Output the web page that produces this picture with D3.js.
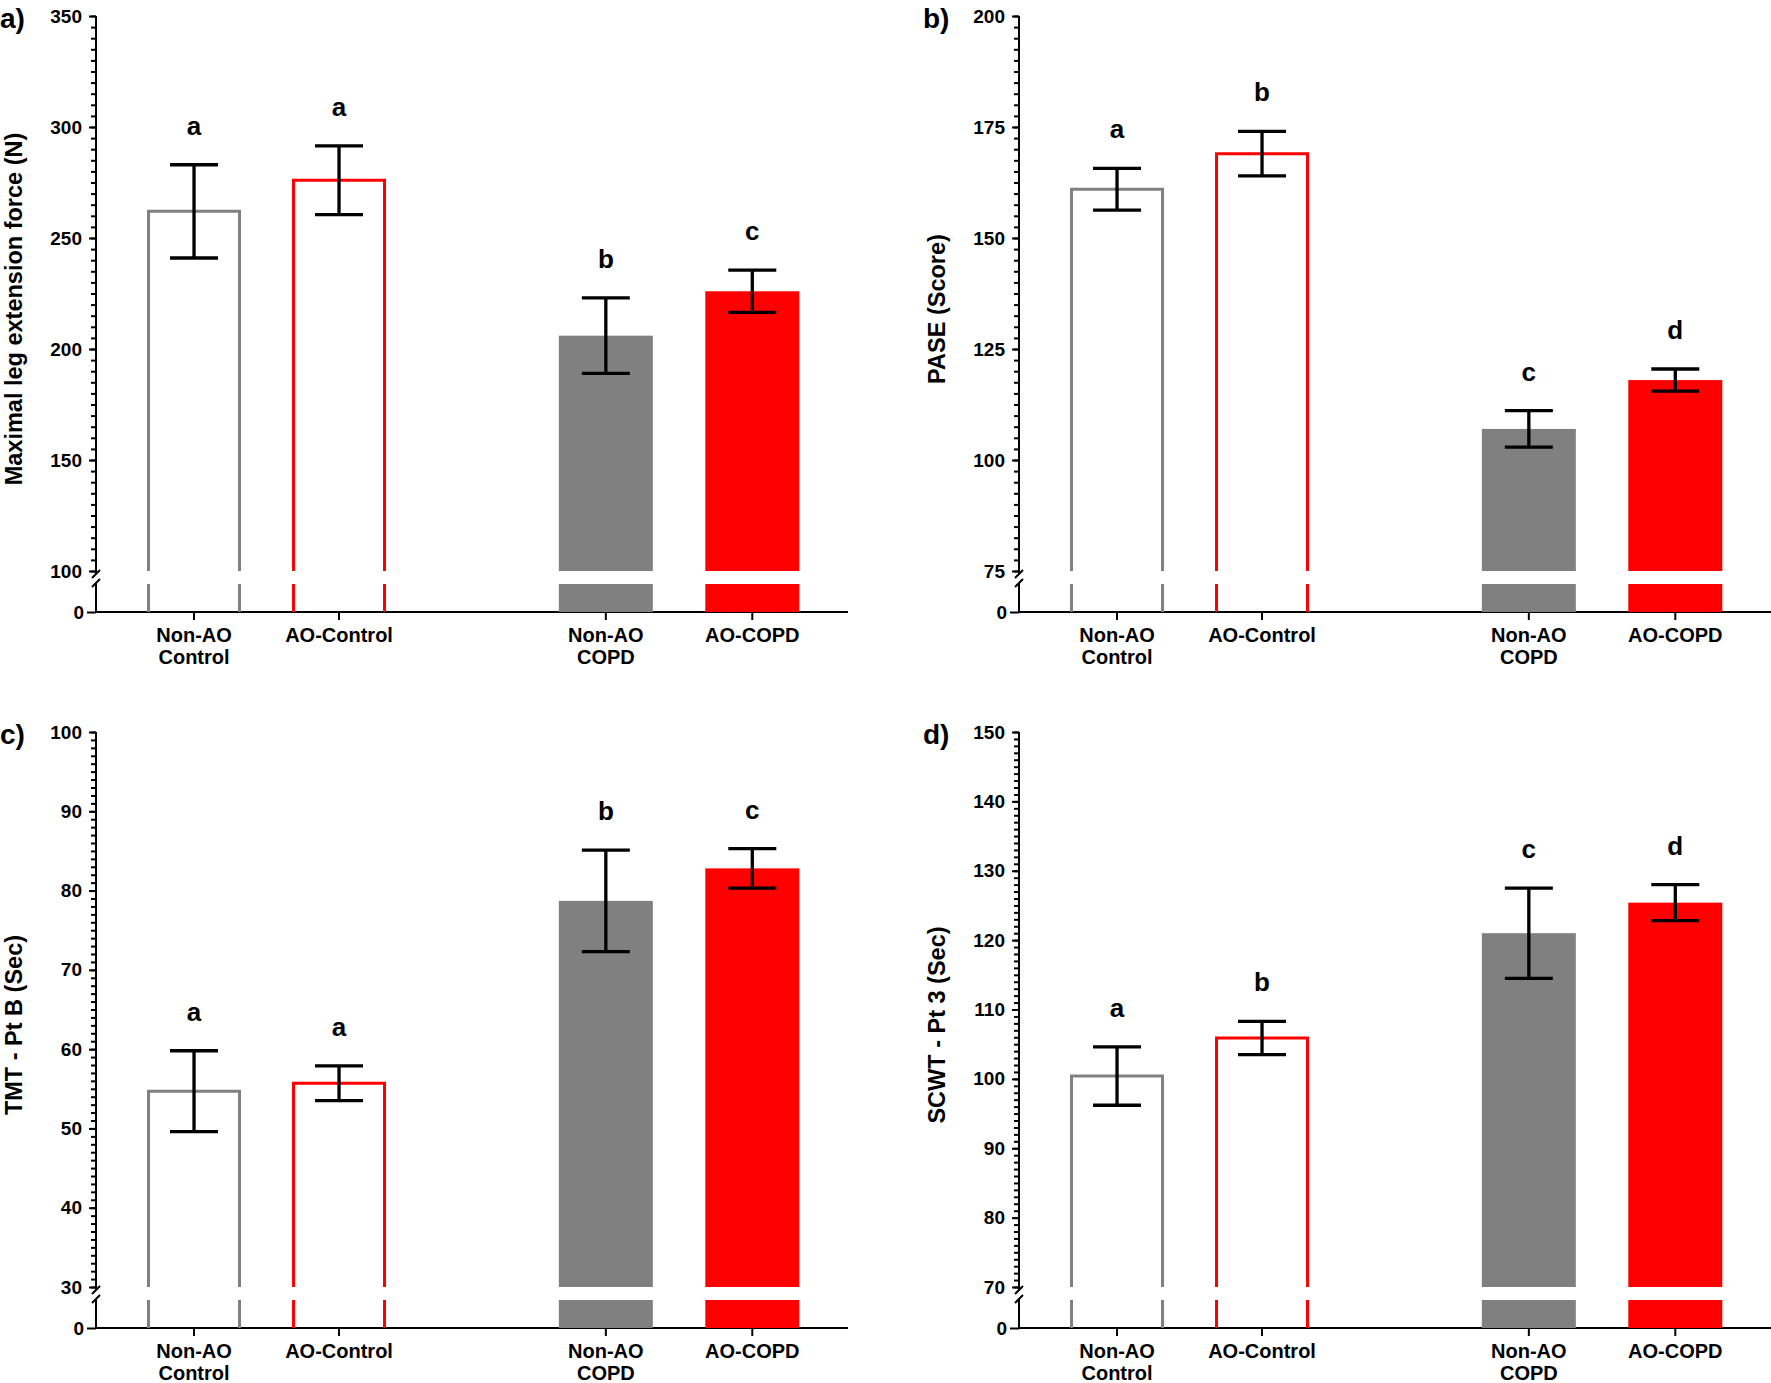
<!DOCTYPE html>
<html>
<head>
<meta charset="utf-8">
<script src="https://cdn.jsdelivr.net/npm/d3@7"></script>
<style>
	body { margin: 0; background: #fff; }
	svg { display: block; font-family: "Liberation Sans", Arial, sans-serif; font-weight: bold; }
</style>
</head>
<body>
<svg width="1771" height="1383"></svg>
<script>
// Groups, in plotting order
var categories = ['Non-AO Control', 'AO-Control', 'Non-AO COPD', 'AO-COPD'];
var category_lines = [['Non-AO', 'Control'], ['AO-Control'], ['Non-AO', 'COPD'], ['AO-COPD']];

// a) Maximal leg extension force
var leg_mean = [262, 276, 206, 226];
var leg_err = [21, 15.5, 17, 9.5];
var leg_letters = ['a', 'a', 'b', 'c'];
var leg_ticks = [100, 150, 200, 250, 300, 350];

// b) PASE
var pase_mean = [161, 169, 107, 118];
var pase_err = [4.7, 5, 4.1, 2.5];
var pase_letters = ['a', 'b', 'c', 'd'];
var pase_ticks = [75, 100, 125, 150, 175, 200];

// c) TMT part B
var tmt_mean = [54.7, 55.7, 78.7, 82.8];
var tmt_err = [5.1, 2.2, 6.4, 2.5];
var tmt_letters = ['a', 'a', 'b', 'c'];
var tmt_ticks = [30, 40, 50, 60, 70, 80, 90, 100];

// d) SCWT part 3
var scwt_mean = [100.4, 105.9, 121, 125.4];
var scwt_err = [4.2, 2.4, 6.5, 2.6];
var scwt_letters = ['a', 'b', 'c', 'd'];
var scwt_ticks = [70, 80, 90, 100, 110, 120, 130, 140, 150];

var panels = [
	{ tag: 'a)', title: 'Maximal leg extension force (N)', mean: leg_mean, err: leg_err, letters: leg_letters, ticks: leg_ticks, minor: 5, ox: 96, oy: 16 },
	{ tag: 'b)', title: 'PASE (Score)', mean: pase_mean, err: pase_err, letters: pase_letters, ticks: pase_ticks, minor: 2.5, ox: 1019, oy: 16 },
	{ tag: 'c)', title: 'TMT - Pt B (Sec)', mean: tmt_mean, err: tmt_err, letters: tmt_letters, ticks: tmt_ticks, minor: 1, ox: 96, oy: 732 },
	{ tag: 'd)', title: 'SCWT - Pt 3 (Sec)', mean: scwt_mean, err: scwt_err, letters: scwt_letters, ticks: scwt_ticks, minor: 1, ox: 1019, oy: 732 }
];

// Layout
var axis_length = 752;
var break_y = 555;
var lower_top = 568;
var zero_y = 596;
var bar_width = 94;
var cap_width = 48;
var slot = [0, 1, 2.84, 3.85];
var open_bar = [true, true, false, false];
var bar_color = ['#808080', '#ff0000', '#808080', '#ff0000'];

var svg = d3.select('svg');
var x = d3.scaleLinear().domain([-0.676, 4.51]).range([0, axis_length]);

function style_labels(sel)
{
	sel.attr('font-size', 19)
		.attr('font-family', '"Liberation Sans", Arial, sans-serif')
		.attr('font-weight', 'bold')
		.attr('fill', '#000');
}

panels.forEach(function(p)
{
	var g = svg.append('g').attr('transform', 'translate(' + p.ox + ',' + p.oy + ')');
	var lo = p.ticks[0], hi = p.ticks[p.ticks.length - 1];
	var y = d3.scaleLinear().domain([lo, hi]).range([break_y, 0]);
	var y_low = d3.scaleLinear().domain([0, 1]).range([zero_y, lower_top]);

	// Panel tag and axis title
	g.append('text')
		.attr('x', -96)
		.attr('y', 12)
		.attr('font-size', 28)
		.text(p.tag);
	g.append('text')
		.attr('transform', 'translate(-82,' + (zero_y / 2 - 5) + ') rotate(-90)')
		.attr('text-anchor', 'middle')
		.attr('dominant-baseline', 'central')
		.attr('font-size', 23.5)
		.text(p.title);

	// Y axis, upper segment
	var minor = d3.range(lo, hi + 0.001, p.minor);
	g.append('g')
		.call(d3.axisLeft(y).tickValues(minor).tickSize(5).tickFormat(''))
		.call(a => a.select('.domain').remove())
		.selectAll('line').attr('stroke', '#000').attr('stroke-width', 2);
	g.append('g')
		.call(d3.axisLeft(y).tickValues(p.ticks).tickSize(7).tickPadding(7).tickFormat(d3.format('d')))
		.call(a => a.select('.domain').remove())
		.call(a => a.selectAll('line').attr('stroke', '#000').attr('stroke-width', 2))
		.selectAll('text').call(style_labels);

	// Y axis, lower segment (just the zero)
	g.append('g')
		.call(d3.axisLeft(y_low).tickValues([0]).tickSize(9).tickPadding(3).tickFormat(d3.format('d')))
		.call(a => a.select('.domain').remove())
		.call(a => a.selectAll('line').attr('stroke', '#000').attr('stroke-width', 2))
		.selectAll('text').call(style_labels);

	var s1 = break_y + 3, s2 = lower_top - 1;
	g.append('path')
		.attr('d', 'M0,0V' + s1 + 'M-4,' + (s1 + 4) + 'L4,' + (s1 - 4)
			+ 'M-4,' + (s2 + 4) + 'L4,' + (s2 - 4) + 'M0,' + s2 + 'V' + zero_y)
		.attr('fill', 'none')
		.attr('stroke', '#000')
		.attr('stroke-width', 2);

	// X axis
	g.append('line')
		.attr('x1', 0).attr('x2', axis_length)
		.attr('y1', zero_y).attr('y2', zero_y)
		.attr('stroke', '#000').attr('stroke-width', 2);
	var cats = g.selectAll('.cat')
		.data(categories)
		.enter().append('g')
		.attr('class', 'cat')
		.attr('transform', (d, i) => 'translate(' + x(slot[i]) + ',' + zero_y + ')');
	cats.append('line')
		.attr('y1', 0).attr('y2', 8)
		.attr('stroke', '#000').attr('stroke-width', 2);
	cats.append('text')
		.attr('text-anchor', 'middle')
		.attr('font-size', 20)
		.selectAll('tspan')
		.data((d, i) => category_lines[i])
		.enter().append('tspan')
		.attr('x', 0)
		.attr('y', (d, k) => 30 + 22 * k)
		.text(d => d);

	// Bars
	var rows = p.mean.map((m, i) => ({ m: m, e: p.err[i], letter: p.letters[i], i: i }));
	var bars = g.selectAll('.bar')
		.data(rows)
		.enter().append('g')
		.attr('class', 'bar');
	bars.filter(d => !open_bar[d.i]).each(function(d)
	{
		var b = d3.select(this);
		var l = x(slot[d.i]) - bar_width / 2;
		b.append('rect')
			.attr('x', l).attr('width', bar_width)
			.attr('y', y(d.m)).attr('height', break_y - y(d.m))
			.attr('fill', bar_color[d.i]);
		b.append('rect')
			.attr('x', l).attr('width', bar_width)
			.attr('y', lower_top).attr('height', zero_y - lower_top)
			.attr('fill', bar_color[d.i]);
	});
	bars.filter(d => open_bar[d.i]).append('path')
		.attr('d', function(d)
		{
			var l = x(slot[d.i]) - bar_width / 2 + 1.5, r = l + bar_width - 3;
			return 'M' + l + ',' + zero_y + 'V' + lower_top
				+ 'M' + l + ',' + break_y + 'V' + y(d.m) + 'H' + r + 'V' + break_y
				+ 'M' + r + ',' + lower_top + 'V' + zero_y;
		})
		.attr('fill', 'none')
		.attr('stroke', d => bar_color[d.i])
		.attr('stroke-width', 3);

	// Error bars
	bars.append('path')
		.attr('d', function(d)
		{
			var c = x(slot[d.i]), t = y(d.m + d.e), b = y(d.m - d.e);
			return 'M' + c + ',' + t + 'V' + b
				+ 'M' + (c - cap_width / 2) + ',' + t + 'H' + (c + cap_width / 2)
				+ 'M' + (c - cap_width / 2) + ',' + b + 'H' + (c + cap_width / 2);
		})
		.attr('fill', 'none')
		.attr('stroke', '#000')
		.attr('stroke-width', 3.3);

	// Significance letters
	bars.append('text')
		.attr('x', d => x(slot[d.i]))
		.attr('y', d => y(d.m + d.e) - 30)
		.attr('text-anchor', 'middle')
		.attr('font-size', 26)
		.text(d => d.letter);
});
</script>
</body>
</html>
